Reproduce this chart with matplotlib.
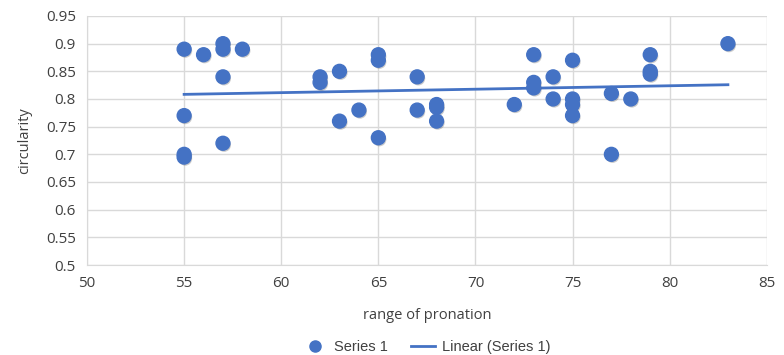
import matplotlib
matplotlib.use('Agg')
import matplotlib.pyplot as plt
import matplotlib.patheffects as pe
from matplotlib.lines import Line2D
import numpy as np

# data
pronation = [55, 55, 55, 55, 56, 57, 57, 57, 57, 58,
             62, 62, 63, 63, 64, 65, 65, 65, 67, 67,
             68, 68, 68, 72, 73, 73, 73, 74, 74,
             75, 75, 75, 75, 77, 77, 78, 79, 79, 79, 83]
circularity = [0.89, 0.77, 0.70, 0.695, 0.88, 0.90, 0.89, 0.84, 0.72, 0.89,
               0.84, 0.83, 0.85, 0.76, 0.78, 0.88, 0.87, 0.73, 0.84, 0.78,
               0.79, 0.785, 0.76, 0.79, 0.88, 0.83, 0.82, 0.84, 0.80,
               0.87, 0.80, 0.79, 0.77, 0.81, 0.70, 0.80, 0.88, 0.85, 0.845, 0.90]
xticks = [50, 55, 60, 65, 70, 75, 80, 85]
yticks = [0.5, 0.55, 0.6, 0.65, 0.7, 0.75, 0.8, 0.85, 0.9, 0.95]

blue = '#4472C4'
plt.rcParams['font.family'] = ['Open Sans', 'DejaVu Sans']

fig = plt.figure(figsize=(7.84, 3.55), dpi=100)
ax = fig.add_axes([0.111, 0.2535, 0.867, 0.7015])

x = np.array(pronation)
y = np.array(circularity)
ax.scatter(x, y, s=100, color=blue, zorder=3,
           path_effects=[pe.SimplePatchShadow(offset=(0.8, -1.2), shadow_rgbFace='#555555', alpha=0.3),
                         pe.Normal()])

# linear trendline
k, b = np.polyfit(x, y, 1)
xs = np.array([x.min(), x.max()])
ax.plot(xs, k * xs + b, color=blue, lw=2, zorder=2)

ax.set_xlim(50, 85)
ax.set_ylim(0.5, 0.95)
ax.set_xticks(xticks)
ax.set_yticks(yticks)
ax.set_yticklabels([f'{t:g}' for t in yticks])
ax.grid(True, color='#d9d9d9', lw=1)
ax.set_axisbelow(True)
for s in ax.spines.values():
    s.set_visible(False)
ax.spines['left'].set_visible(True)
ax.spines['left'].set_color('#d9d9d9')
ax.spines['bottom'].set_visible(True)
ax.spines['bottom'].set_color('#d9d9d9')
ax.tick_params(length=0, labelsize=11, colors='#404040', pad=8)
ax.set_xlabel('range of pronation', fontsize=10.5, color='#404040', labelpad=12)
ax.set_ylabel('circularity', fontsize=10.5, color='#404040', labelpad=10)

handles = [Line2D([], [], marker='o', ls='none', color=blue, markersize=8),
           Line2D([], [], color=blue, lw=2)]
ax.legend(handles, ['Series 1', 'Linear (Series 1)'], loc='upper center',
          bbox_to_anchor=(0.5, -0.25), ncol=2, frameon=False,
          prop={'family': 'Liberation Sans', 'size': 10.5}, handlelength=1.6,
          handletextpad=0.5, columnspacing=1.6, labelcolor='#404040')

fig.savefig('out.png', dpi=100)
